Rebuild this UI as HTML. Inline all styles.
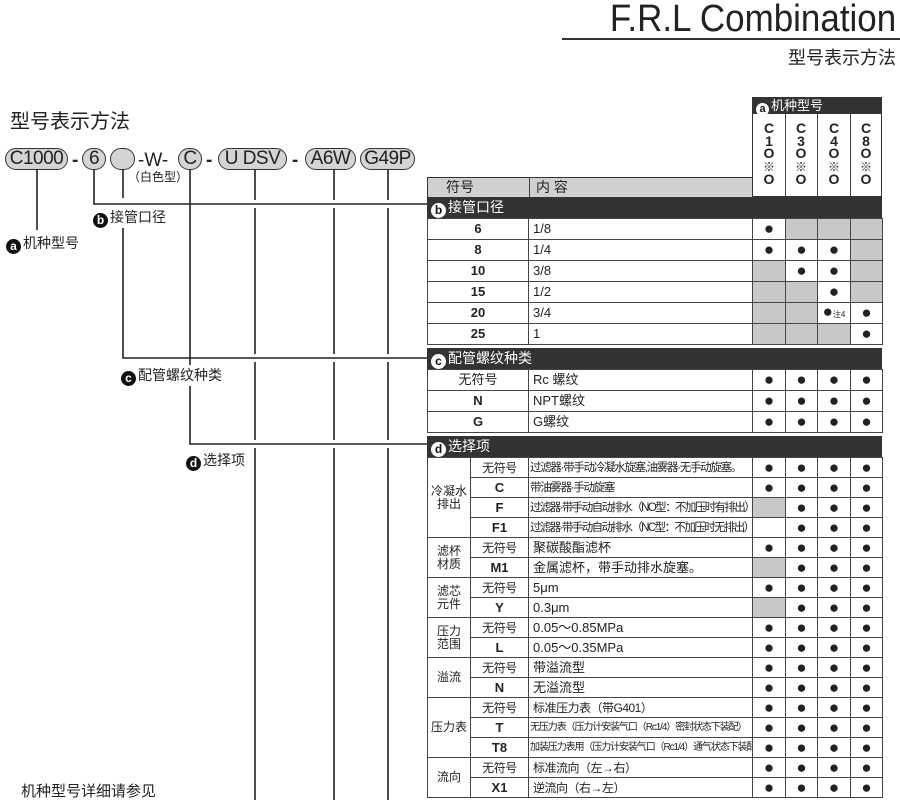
<!DOCTYPE html>
<html><head><meta charset="utf-8"><style>
*{margin:0;padding:0;box-sizing:border-box}
body{width:900px;height:800px;background:#fff;position:relative;overflow:hidden;font-family:"Liberation Sans","Noto Sans CJK SC",sans-serif;color:#222}
.a{position:absolute;white-space:nowrap}
.pill{position:absolute;top:148px;height:22px;border:1.5px solid #333;border-radius:11px;background:#d4d4d4;font-size:19px;line-height:19px;text-align:center;letter-spacing:-0.5px}
.dash{position:absolute;top:150px;font-size:19px;font-weight:bold}
.circ{display:inline-block;width:15px;height:15px;border-radius:8px;background:#111;color:#fff;font-size:12px;line-height:14px;text-align:center;font-weight:bold;vertical-align:-2px;margin-right:2px}
.circw{background:#fff;color:#111}
table{position:absolute;border-collapse:collapse;table-layout:fixed;left:427px;width:455px}
td{border:1px solid #444;font-size:13px;line-height:14px;padding:0 4px;overflow:hidden;white-space:nowrap}
td.s{text-align:center;font-weight:bold}
td.d{text-align:center;font-size:17px;padding:0}
td.g{background:#c8c8c8}
td.grp{text-align:center;font-size:12px;line-height:13px;padding:0}
.bar{position:absolute;left:427px;width:455px;background:#333;color:#fff;font-size:14px;height:21px;line-height:21px;padding-left:4px}
.sm{font-size:12px;letter-spacing:-0.5px}
.l1{font-size:11.5px;letter-spacing:-1.3px;padding:0 1px!important}
.xs{font-size:10px;letter-spacing:-1.1px;padding:0 1px!important}
.vt{position:absolute;top:122px;font-size:14px;font-weight:bold;line-height:12.5px;text-align:center;width:16px}
</style></head><body>
<div class="a" style="right:4px;top:-2px;font-size:38px;transform:scaleX(0.92);transform-origin:right;color:#222">F.R.L Combination</div>
<div class="a" style="left:562px;top:38px;width:338px;height:2px;background:#333"></div>
<div class="a" style="right:4px;top:44px;font-size:18px">型号表示方法</div>
<div class="a" style="left:10px;top:105px;font-size:20px">型号表示方法</div>

<svg class="a" style="left:0;top:0" width="900" height="800">
<g stroke="#222" stroke-width="1.6" fill="none">
<path d="M37 170V230"/>
<path d="M94 170V204H427"/>
<path d="M123 170V198M123 222V358H427"/>
<path d="M190 170V444H427"/>
<path d="M255 170V200M255 208V354M255 362V440M255 448V800"/>
<path d="M334 170V200M334 208V354M334 362V440M334 448V800"/>
<path d="M388 170V200M388 208V354M388 362V440M388 448V800"/>
</g></svg>

<div class="pill" style="left:5px;width:63px">C1000</div>
<div class="dash" style="left:72px">-</div>
<div class="pill" style="left:82px;width:24px">6</div>
<div class="pill" style="left:110px;width:25px"></div>
<div class="dash" style="left:138px;font-weight:normal">-W-</div>
<div class="pill" style="left:178px;width:24px">C</div>
<div class="dash" style="left:206px">-</div>
<div class="pill" style="left:218px;width:69px">U DSV</div>
<div class="dash" style="left:292px">-</div>
<div class="pill" style="left:305px;width:51px">A6W</div>
<div class="pill" style="left:360px;width:55px">G49P</div>
<div class="a" style="left:128px;top:168px;font-size:12px">（白色型）</div>

<div class="a" style="left:93px;top:207px;font-size:14px;background:#fff"><span class="circ">b</span>接管口径</div>
<div class="a" style="left:6px;top:233px;font-size:14px"><span class="circ">a</span>机种型号</div>
<div class="a" style="left:121px;top:365px;font-size:14px;background:#fff"><span class="circ">c</span>配管螺纹种类</div>
<div class="a" style="left:186px;top:450px;font-size:14px;background:#fff"><span class="circ">d</span>选择项</div>
<div class="a" style="left:21px;top:780px;font-size:15px">机种型号详细请参见</div>

<div class="a" style="left:752px;top:97px;width:130px;height:100px;border:1.5px solid #333"></div>
<div class="a" style="left:752px;top:97px;width:130px;height:17px;background:#333;color:#fff;font-size:13px;line-height:17px;padding-left:4px"><span class="circ circw" style="width:13px;height:13px;line-height:13px;font-size:11px">a</span>机种型号</div>
<div class="a" style="left:785px;top:114px;width:1px;height:83px;background:#444"></div>
<div class="a" style="left:817px;top:114px;width:1px;height:83px;background:#444"></div>
<div class="a" style="left:850px;top:114px;width:1px;height:83px;background:#444"></div>
<div class="vt" style="left:761px">C<br>1<br>O<br><span style="font-weight:normal;font-size:12px">※</span><br>O</div>
<div class="vt" style="left:793px">C<br>3<br>O<br><span style="font-weight:normal;font-size:12px">※</span><br>O</div>
<div class="vt" style="left:826px">C<br>4<br>O<br><span style="font-weight:normal;font-size:12px">※</span><br>O</div>
<div class="vt" style="left:858px">C<br>8<br>O<br><span style="font-weight:normal;font-size:12px">※</span><br>O</div>
<div class="a" style="left:427px;top:177px;width:326px;height:21px;background:#d0d0d0;border:1.5px solid #333;font-size:14px;line-height:18px"><span style="position:absolute;left:18px">符号</span><span style="position:absolute;left:101px;height:19px;border-left:1px solid #444;padding-left:6px">内 容</span></div>

<div class="bar" style="top:197px"><span class="circ circw">b</span>接管口径</div>
<table style="top:218px;border:1.5px solid #333">
<colgroup><col style="width:101px"><col style="width:224px"><col style="width:33px"><col style="width:32px"><col style="width:33px"><col style="width:32px"></colgroup>
<tr style="height:21px"><td class="s">6</td><td>1/8</td><td class="d">●</td><td class="g"></td><td class="g"></td><td class="g"></td></tr>
<tr style="height:21px"><td class="s">8</td><td>1/4</td><td class="d">●</td><td class="d">●</td><td class="d">●</td><td class="g"></td></tr>
<tr style="height:21px"><td class="s">10</td><td>3/8</td><td class="g"></td><td class="d">●</td><td class="d">●</td><td class="g"></td></tr>
<tr style="height:21px"><td class="s">15</td><td>1/2</td><td class="g"></td><td class="g"></td><td class="d">●</td><td class="g"></td></tr>
<tr style="height:21px"><td class="s">20</td><td>3/4</td><td class="g"></td><td class="g"></td><td class="d">●<span style="font-size:8px">注4</span></td><td class="d">●</td></tr>
<tr style="height:21px"><td class="s">25</td><td>1</td><td class="g"></td><td class="g"></td><td class="g"></td><td class="d">●</td></tr>
</table>

<div class="bar" style="top:348px"><span class="circ circw">c</span>配管螺纹种类</div>
<table style="top:369px;border:1.5px solid #333">
<colgroup><col style="width:101px"><col style="width:224px"><col style="width:33px"><col style="width:32px"><col style="width:33px"><col style="width:32px"></colgroup>
<tr style="height:21px"><td class="s" style="font-weight:normal">无符号</td><td>Rc 螺纹</td><td class="d">●</td><td class="d">●</td><td class="d">●</td><td class="d">●</td></tr>
<tr style="height:21px"><td class="s">N</td><td>NPT螺纹</td><td class="d">●</td><td class="d">●</td><td class="d">●</td><td class="d">●</td></tr>
<tr style="height:21px"><td class="s">G</td><td>G螺纹</td><td class="d">●</td><td class="d">●</td><td class="d">●</td><td class="d">●</td></tr>
</table>

<div class="bar" style="top:436px"><span class="circ circw">d</span>选择项</div>
<table style="top:457px;border:1.5px solid #333">
<colgroup><col style="width:43px"><col style="width:58px"><col style="width:224px"><col style="width:33px"><col style="width:32px"><col style="width:33px"><col style="width:32px"></colgroup>
<tr style="height:20px"><td class="grp" rowspan="4">冷凝水<br>排出</td><td class="s sm" style="font-weight:normal">无符号</td><td class="l1">过滤器·带手动冷凝水旋塞,油雾器·无手动旋塞。</td><td class="d">●</td><td class="d">●</td><td class="d">●</td><td class="d">●</td></tr>
<tr style="height:20px"><td class="s">C</td><td class="l1">带油雾器·手动旋塞</td><td class="d">●</td><td class="d">●</td><td class="d">●</td><td class="d">●</td></tr>
<tr style="height:20px"><td class="s">F</td><td class="l1" style="letter-spacing:-1.6px">过滤器·带手动自动排水（NO型：不加压时有排出）</td><td class="g"></td><td class="d">●</td><td class="d">●</td><td class="d">●</td></tr>
<tr style="height:20px"><td class="s">F1</td><td class="l1" style="letter-spacing:-1.6px">过滤器·带手动自动排水（NC型：不加压时无排出）</td><td></td><td class="d">●</td><td class="d">●</td><td class="d">●</td></tr>
<tr style="height:20px"><td class="grp" rowspan="2">滤杯<br>材质</td><td class="s sm" style="font-weight:normal">无符号</td><td>聚碳酸酯滤杯</td><td class="d">●</td><td class="d">●</td><td class="d">●</td><td class="d">●</td></tr>
<tr style="height:20px"><td class="s">M1</td><td>金属滤杯，带手动排水旋塞。</td><td class="g"></td><td class="d">●</td><td class="d">●</td><td class="d">●</td></tr>
<tr style="height:20px"><td class="grp" rowspan="2">滤芯<br>元件</td><td class="s sm" style="font-weight:normal">无符号</td><td>5μm</td><td class="d">●</td><td class="d">●</td><td class="d">●</td><td class="d">●</td></tr>
<tr style="height:20px"><td class="s">Y</td><td>0.3μm</td><td class="g"></td><td class="d">●</td><td class="d">●</td><td class="d">●</td></tr>
<tr style="height:20px"><td class="grp" rowspan="2">压力<br>范围</td><td class="s sm" style="font-weight:normal">无符号</td><td>0.05～0.85MPa</td><td class="d">●</td><td class="d">●</td><td class="d">●</td><td class="d">●</td></tr>
<tr style="height:20px"><td class="s">L</td><td>0.05～0.35MPa</td><td class="d">●</td><td class="d">●</td><td class="d">●</td><td class="d">●</td></tr>
<tr style="height:20px"><td class="grp" rowspan="2">溢流</td><td class="s sm" style="font-weight:normal">无符号</td><td>带溢流型</td><td class="d">●</td><td class="d">●</td><td class="d">●</td><td class="d">●</td></tr>
<tr style="height:20px"><td class="s">N</td><td>无溢流型</td><td class="d">●</td><td class="d">●</td><td class="d">●</td><td class="d">●</td></tr>
<tr style="height:20px"><td class="grp" rowspan="3">压力表</td><td class="s sm" style="font-weight:normal">无符号</td><td class="sm">标准压力表（带G401）</td><td class="d">●</td><td class="d">●</td><td class="d">●</td><td class="d">●</td></tr>
<tr style="height:20px"><td class="s">T</td><td class="xs">无压力表（压力计安装气口（Rc1/4）密封状态下装配）</td><td class="d">●</td><td class="d">●</td><td class="d">●</td><td class="d">●</td></tr>
<tr style="height:20px"><td class="s">T8</td><td class="xs">加装压力表用（压力计安装气口（Rc1/4）通气状态下装配）</td><td class="d">●</td><td class="d">●</td><td class="d">●</td><td class="d">●</td></tr>
<tr style="height:20px"><td class="grp" rowspan="2">流向</td><td class="s sm" style="font-weight:normal">无符号</td><td class="sm">标准流向（左→右）</td><td class="d">●</td><td class="d">●</td><td class="d">●</td><td class="d">●</td></tr>
<tr style="height:20px"><td class="s">X1</td><td class="sm">逆流向（右→左）</td><td class="d">●</td><td class="d">●</td><td class="d">●</td><td class="d">●</td></tr>
</table>
</body></html>
